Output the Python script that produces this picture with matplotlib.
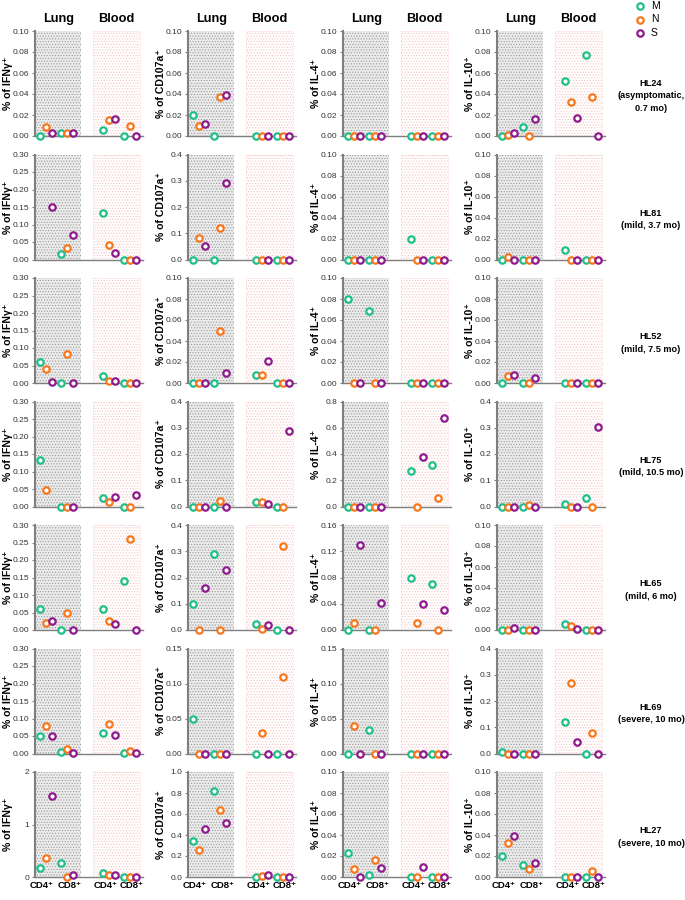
import numpy as np
import matplotlib.pyplot as plt
from matplotlib.ticker import FormatStrFormatter

plt.rcParams['font.family'] = ['Liberation Sans', 'DejaVu Sans']
plt.rcParams['hatch.linewidth'] = 0.5

# order in each list: Lung CD4 (M,N,S), Lung CD8 (M,N,S), Blood CD4 (M,N,S), Blood CD8 (M,N,S)
nan = np.nan
patients = ["HL24\n(asymptomatic,\n0.7 mo)", "HL81\n(mild, 3.7 mo)", "HL52\n(mild, 7.5 mo)",
            "HL75\n(mild, 10.5 mo)", "HL65\n(mild, 6 mo)", "HL69\n(severe, 10 mo)",
            "HL27\n(severe, 10 mo)"]
cytokines = ["IFNγ", "CD107a", "IL-4", "IL-10"]
antigens = ["M", "N", "S"]

hl24_ifng = [0.000, 0.009, 0.003, 0.003, 0.003, 0.003, 0.006, 0.015, 0.016, 0.000, 0.010, 0.000]
hl24_cd107a = [0.020, 0.010, 0.011, 0.000, 0.037, 0.039, 0, 0, 0, 0, 0, 0]
hl24_il4 = [0, 0, 0, 0, 0, 0, 0, 0, 0, 0, 0, 0]
hl24_il10 = [0.000, 0.001, 0.003, 0.009, 0.000, 0.016, 0.052, 0.032, 0.017, 0.077, 0.037, 0.000]

hl81_ifng = [nan, nan, 0.151, 0.016, 0.033, 0.071, 0.133, 0.042, 0.019, 0, 0, 0]
hl81_cd107a = [0.000, 0.081, 0.050, 0.000, 0.120, 0.292, 0, 0, 0, 0, 0, 0]
hl81_il4 = [0, 0, 0, 0, 0, 0, 0.020, 0, 0, 0, 0, 0]
hl81_il10 = [0.000, 0.002, 0.000, 0, 0, 0, 0.009, 0, 0, 0, 0, 0]

hl52_ifng = [0.061, 0.039, 0.002, 0.001, 0.083, 0.000, 0.021, 0.005, 0.007, 0, 0, 0]
hl52_cd107a = [0, 0, 0, 0.000, 0.050, 0.0095, 0.008, 0.008, 0.021, 0, 0, 0]
hl52_il4 = [0.080, 0, 0, 0.069, 0, 0, 0, 0, 0, 0, 0, 0]
hl52_il10 = [0.000, 0.007, 0.008, 0.000, 0.000, 0.005, 0, 0, 0, 0, 0, 0]

hl75_ifng = [0.132, 0.046, nan, 0, 0, 0, 0.023, 0.013, 0.028, 0.000, 0.000, 0.034]
hl75_cd107a = [0, 0, 0, 0.000, 0.020, 0.000, 0.018, 0.019, 0.008, 0.000, 0.000, 0.289]
hl75_il4 = [0, 0, 0, 0, 0, 0, 0.27, 0.000, 0.378, 0.318, 0.068, 0.675]
hl75_il10 = [0, 0, 0, 0.000, 0.007, 0.000, 0.010, 0.000, 0.000, 0.031, 0.000, 0.302]

hl65_ifng = [0.059, 0.021, 0.025, 0.000, 0.050, 0.000, 0.060, 0.025, 0.018, 0.140, 0.259, 0.000]
hl65_cd107a = [0.100, 0.000, 0.159, 0.291, 0.000, 0.230, 0.024, 0.004, 0.020, 0.000, 0.320, 0.000]
hl65_il4 = [0.000, 0.0105, 0.129, 0.000, 0.000, 0.041, 0.080, 0.010, 0.040, 0.070, 0.000, 0.030]
hl65_il10 = [0.000, 0.000, 0.0015, 0, 0, 0, 0.006, 0.004, 0.001, 0, 0, 0]

hl69_ifng = [0.050, 0.080, 0.050, 0.003, 0.012, 0.002, 0.060, 0.083, 0.052, 0.002, 0.007, 0.001]
hl69_cd107a = [0.050, 0.000, 0.000, 0, 0, 0, 0.000, 0.030, 0.000, 0.000, 0.110, 0.000]
hl69_il4 = [0.000, 0.040, 0.000, 0.033, 0.000, 0.000, 0, 0, 0, 0, 0, 0]
hl69_il10 = [0.005, 0.000, 0.000, 0, 0, 0, 0.120, 0.270, 0.042, 0.000, 0.080, 0.000]

hl27_ifng = [0.18, 0.37, 1.55, 0.26, 0.00, 0.04, 0.08, 0.04, 0.04, 0, 0, 0]
hl27_cd107a = [0.34, 0.26, 0.46, 0.82, 0.64, 0.51, 0.00, 0.01, 0.02, 0, 0, 0]
hl27_il4 = [0.023, 0.008, 0.000, 0.002, 0.016, 0.009, 0.000, 0.000, 0.010, 0, 0, 0]
hl27_il10 = [0.020, 0.032, 0.039, 0.011, 0.008, 0.013, 0.000, 0.000, 0.000, 0.000, 0.006, 0.000]

# y axis maxima and tick step per panel (rows x cytokines)
ymax = [[0.10, 0.10, 0.10, 0.10],
        [0.30, 0.4, 0.10, 0.10],
        [0.30, 0.10, 0.10, 0.10],
        [0.30, 0.4, 0.8, 0.4],
        [0.30, 0.4, 0.16, 0.10],
        [0.30, 0.15, 0.15, 0.4],
        [2, 1.0, 0.10, 0.10]]
ystep = [[0.02, 0.02, 0.02, 0.02],
         [0.05, 0.1, 0.02, 0.02],
         [0.05, 0.02, 0.02, 0.02],
         [0.05, 0.1, 0.2, 0.1],
         [0.05, 0.1, 0.04, 0.02],
         [0.05, 0.05, 0.05, 0.1],
         [1, 0.2, 0.02, 0.02]]

data = [[hl24_ifng, hl24_cd107a, hl24_il4, hl24_il10],
        [hl81_ifng, hl81_cd107a, hl81_il4, hl81_il10],
        [hl52_ifng, hl52_cd107a, hl52_il4, hl52_il10],
        [hl75_ifng, hl75_cd107a, hl75_il4, hl75_il10],
        [hl65_ifng, hl65_cd107a, hl65_il4, hl65_il10],
        [hl69_ifng, hl69_cd107a, hl69_il4, hl69_il10],
        [hl27_ifng, hl27_cd107a, hl27_il4, hl27_il10]]

colors = {"M": "#1fbf8a", "N": "#f7781c", "S": "#8e1a8e"}
xpos = [0, 1, 2, 3.5, 4.5, 5.5, 10.5, 11.5, 12.5, 14, 15, 16]

W, H = 685, 900
fig = plt.figure(figsize=(W / 100, H / 100), dpi=100)

col_left = [35, 188, 343, 497]
ax_w = 108
row_top0 = 31
row_h = 105
row_gap = 123.5

for r in range(7):
    for c in range(4):
        top = row_top0 + r * row_gap
        ax = fig.add_axes([col_left[c] / W, 1 - (top + row_h) / H, ax_w / W, row_h / H])
        ym = ymax[r][c]
        ax.set_xlim(-0.85, 17.2)
        ax.set_ylim(0, ym)
        # shaded compartments
        ax.axvspan(-0.7, 6.8, facecolor="#ebebeb", edgecolor="#9a9a9a", hatch="......", lw=0, zorder=0)
        ax.axvspan(8.8, 16.7, facecolor="white", edgecolor="#f9c4c4", hatch="......", lw=0, zorder=0)
        ax.axvspan(8.8, 16.7, facecolor="none", edgecolor="#f9c8c8", lw=0.6, ls=":", zorder=0)
        vals = data[r][c]
        for i, v in enumerate(vals):
            if np.isnan(v):
                continue
            ag = antigens[i % 3]
            ax.plot(xpos[i], v, "o", ms=4.6, mfc="white", mec=colors[ag], mew=1.6,
                    clip_on=False, zorder=5)
        for s in ["top", "right"]:
            ax.spines[s].set_visible(False)
        ax.spines["left"].set_color("#7f7f7f")
        ax.spines["left"].set_linewidth(1.5)
        ax.spines["bottom"].set_color("#7f7f7f")
        ax.spines["bottom"].set_linewidth(1.0)
        ax.set_yticks(np.arange(0, ym + ystep[r][c] / 2, ystep[r][c]))
        if ym >= 2:
            ax.yaxis.set_major_formatter(FormatStrFormatter("%d"))
        elif ystep[r][c] >= 0.1:
            ax.yaxis.set_major_formatter(FormatStrFormatter("%.1f"))
        else:
            ax.yaxis.set_major_formatter(FormatStrFormatter("%.2f"))
        ax.tick_params(axis="y", labelsize=6.0, length=2.5, width=0.8, color="#7f7f7f",
                       labelcolor="#333333", pad=1.5)
        ax.set_ylabel("% of " + cytokines[c] + "⁺", fontsize=7.6, fontweight="bold")
        ax.yaxis.set_label_coords(-0.2, 0.5)
        if r == 6:
            ax.set_xticks([0.3, 4.9, 11.0, 15.3])
            ax.set_xticklabels(["CD4⁺", "CD8⁺", "CD4⁺", "CD8⁺"], fontsize=6.8, fontweight="bold")
            ax.tick_params(axis="x", length=0, pad=3)
        else:
            ax.set_xticks([])
        if r == 0:
            ax.text(3.05, 1.06, "Lung", transform=ax.get_xaxis_transform(), ha="center", va="bottom",
                    fontsize=9.2, fontweight="bold")
            ax.text(12.75, 1.06, "Blood", transform=ax.get_xaxis_transform(), ha="center", va="bottom",
                    fontsize=9.2, fontweight="bold")
    fig.text(651 / W, 1 - (row_top0 + r * row_gap + 65) / H, patients[r], ha="center", va="center",
             fontsize=6.6, fontweight="bold", linespacing=1.5)

# legend
for k, ag in enumerate(antigens):
    y = 1 - (6 + 13.5 * k) / H
    fig.lines.append(plt.Line2D([640 / W], [y], marker="o", ms=4.6, mfc="white", mec=colors[ag],
                                mew=1.6, transform=fig.transFigure))
    fig.text(651 / W, y, ag, ha="left", va="center", fontsize=7.5)

fig.savefig("out.png", dpi=100)
